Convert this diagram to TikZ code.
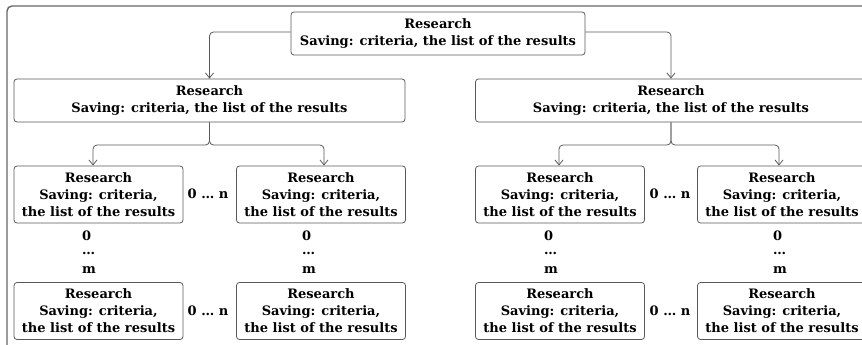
\documentclass[tikz,border=0pt]{standalone}
\usepackage{fontspec}
\setmainfont{DejaVu Serif}
\usetikzlibrary{arrows.meta}
\begin{document}
\begin{tikzpicture}[x=1pt,y=-1pt,
  font=\bfseries\fontsize{13}{17}\selectfont,
  box/.style={draw=black!65, line width=0.8pt, rounded corners=3pt, align=center, inner sep=0pt, text=black},
  bigbox/.style={box, minimum width=391pt, minimum height=43pt},
  smallbox/.style={box, minimum width=169pt, minimum height=57pt},
  conn/.style={draw=black!65, line width=0.8pt, rounded corners=4pt, -{Straight Barb[length=5pt,width=8pt]}},
  lbl/.style={inner sep=0pt, text=black},
  vlbl/.style={inner sep=0pt, text=black, anchor=west}]
\useasboundingbox (0,0) rectangle (862,345);
\draw[black!60, line width=1.4pt, rounded corners=5pt] (7,360) -- (7,6) -- (875,6);
\node[box, minimum width=294pt, minimum height=43pt] (top) at (438,33.5) {Research\\Saving: criteria, the list of the results};
\node[bigbox] (L) at (209.5,100.5) {Research\\Saving: criteria, the list of the results};
\node[bigbox] (R) at (671,100.5) {Research\\Saving: criteria, the list of the results};
\draw[conn] (top.west |- 0,32) -| (L.north);
\draw[conn] (top.east |- 0,32) -| (R.north);
% left group
\node[smallbox] (L11) at (98.5,194.5) {Research\\Saving: criteria,\\the list of the results};
\node[smallbox] (L12) at (321,194.5) {Research\\Saving: criteria,\\the list of the results};
\node[smallbox] (L21) at (98.5,311) {Research\\Saving: criteria,\\the list of the results};
\node[smallbox] (L22) at (321,311) {Research\\Saving: criteria,\\the list of the results};
\coordinate (Lj) at (209.5,145);
\draw[conn] (L.south) -- (Lj) -| ([xshift=-5.5pt]L11.north);
\draw[conn] (L.south) -- (Lj) -| ([xshift=3pt]L12.north);
\node[lbl] (Ln1) at (208,194) {0 … n};
\node[lbl] (Ln2) at (208,311) {0 … n};
\node[vlbl] (La0) at (82,236) {0};
\node[vlbl] (Lad) at (82,253) {…};
\node[vlbl] (Lam) at (82,270) {m};
\node[vlbl] (Lb0) at (302,236) {0};
\node[vlbl] (Lbd) at (302,253) {…};
\node[vlbl] (Lbm) at (302,270) {m};
% right group
\node[smallbox] (R11) at (560,194.5) {Research\\Saving: criteria,\\the list of the results};
\node[smallbox] (R12) at (782,194.5) {Research\\Saving: criteria,\\the list of the results};
\node[smallbox] (R21) at (560,311) {Research\\Saving: criteria,\\the list of the results};
\node[smallbox] (R22) at (782,311) {Research\\Saving: criteria,\\the list of the results};
\coordinate (Rj) at (671,145);
\draw[conn] (R.south) -- (Rj) -| ([xshift=-1pt]R11.north);
\draw[conn] (R.south) -- (Rj) -| ([xshift=-3pt]R12.north);
\node[lbl] (Rn1) at (670,194) {0 … n};
\node[lbl] (Rn2) at (670,311) {0 … n};
\node[vlbl] (Ra0) at (544,236) {0};
\node[vlbl] (Rad) at (544,253) {…};
\node[vlbl] (Ram) at (544,270) {m};
\node[vlbl] (Rb0) at (773,236) {0};
\node[vlbl] (Rbd) at (773,253) {…};
\node[vlbl] (Rbm) at (773,270) {m};
\end{tikzpicture}
\end{document}
